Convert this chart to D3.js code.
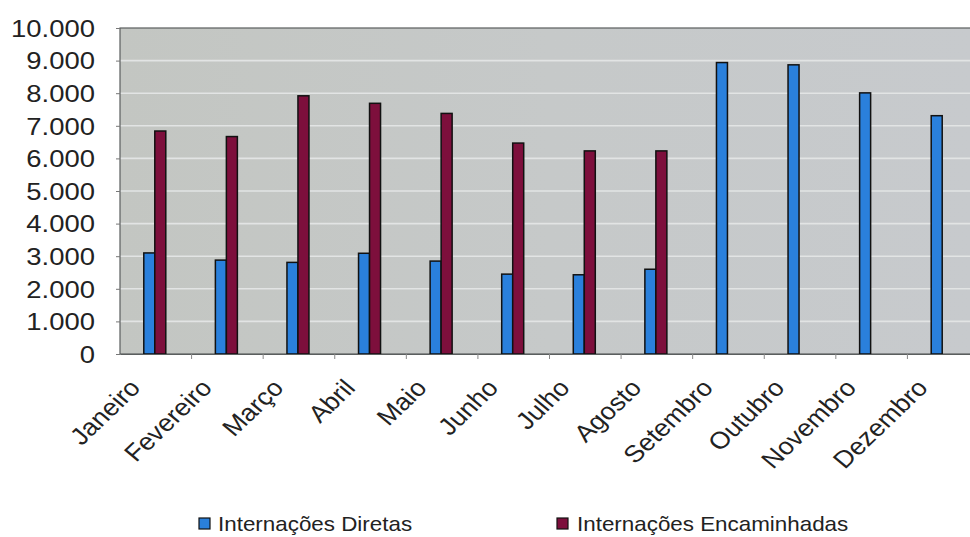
<!DOCTYPE html>
<html>
<head>
<meta charset="utf-8">
<script src="https://cdn.jsdelivr.net/npm/d3@7"></script>
<style>
  html, body { margin: 0; padding: 0; background: #ffffff; }
  svg { display: block; }
  text { font-family: "Liberation Sans", Arial, sans-serif; fill: #222; }
</style>
</head>
<body>
<svg id="chart" width="970" height="537"></svg>
<script>
const months = ["Janeiro","Fevereiro","Março","Abril","Maio","Junho","Julho","Agosto","Setembro","Outubro","Novembro","Dezembro"];
const diretas = [3100, 2880, 2810, 3090, 2850, 2450, 2430, 2600, 8940, 8870, 8010, 7310];
const encaminhadas = [6840, 6670, 7920, 7690, 7380, 6470, 6230, 6230, null, null, null, null];
const seriesNames = ["Internações Diretas", "Internações Encaminhadas"];
const seriesColors = ["#2a80dc", "#7d0f3c"];
const yTicks = [0,1000,2000,3000,4000,5000,6000,7000,8000,9000,10000];

const svg = d3.select("#chart");
const SX = 1.12; // horizontal text stretch as in reference
const plot = { left: 120, right: 979, top: 28, bottom: 354 };

const defs = svg.append("defs");
const grad = defs.append("linearGradient").attr("id","bg").attr("x1","0").attr("x2","1").attr("y1","0").attr("y2","0");
grad.append("stop").attr("offset","0").attr("stop-color","#c3c6c2");
grad.append("stop").attr("offset","0.5").attr("stop-color","#c6c9c9");
grad.append("stop").attr("offset","1").attr("stop-color","#c7cacd");

const x = d3.scaleBand().domain(months).range([plot.left, plot.right]).paddingInner(0).paddingOuter(0);
const y = d3.scaleLinear().domain([0, 10000]).range([plot.bottom, plot.top]);

// plot background
svg.append("rect").attr("x", plot.left).attr("y", plot.top)
  .attr("width", plot.right - plot.left).attr("height", plot.bottom - plot.top)
  .attr("fill", "url(#bg)");

// gridlines
svg.append("g").selectAll("line").data(yTicks.filter(d => d > 0 && d < 10000)).join("line")
  .attr("x1", plot.left).attr("x2", plot.right)
  .attr("y1", d => y(d)).attr("y2", d => y(d))
  .attr("stroke", "#e2e4e4").attr("stroke-width", 1.6);

// plot border
svg.append("rect").attr("x", plot.left).attr("y", plot.top)
  .attr("width", plot.right - plot.left).attr("height", plot.bottom - plot.top)
  .attr("fill", "none").attr("stroke", "#5a5e5e").attr("stroke-width", 1.2);

// bars
const barW = 11;
const data = [diretas, encaminhadas];
data.forEach((vals, si) => {
  svg.append("g").selectAll("rect").data(months.map((m, i) => ({ m, v: vals[i] })).filter(d => d.v != null)).join("rect")
    .attr("x", d => x(d.m) + x.bandwidth() / 2 - barW + si * barW - 1)
    .attr("y", d => y(d.v))
    .attr("width", barW)
    .attr("height", d => y(0) - y(d.v))
    .attr("fill", seriesColors[si])
    .attr("stroke", "#111")
    .attr("stroke-width", 1.5);
});

// y axis ticks + labels
const yAxis = d3.axisLeft(y).tickValues(yTicks).tickSize(4).tickFormat("");
const gy = svg.append("g").attr("transform", `translate(${plot.left},0)`).call(yAxis);
gy.select(".domain").remove();
gy.selectAll("line").attr("stroke", "#777");
svg.append("g").selectAll("text").data(yTicks).join("text")
  .attr("transform", d => `translate(95,${y(d)}) scale(${SX},1)`)
  .attr("text-anchor", "end").attr("dy", "0.36em")
  .style("font-size", "24.5px")
  .text(d => d3.format(",")(d).replace(/,/g, "."));

// x axis ticks
const xAxis = d3.axisBottom(x).tickSize(0).tickFormat("");
const gx = svg.append("g").attr("transform", `translate(0,${plot.bottom})`).call(xAxis);
gx.select(".domain").attr("stroke", "#5a5e5e");
svg.append("g").selectAll("line").data(months.slice(1)).join("line")
  .attr("x1", d => x(d)).attr("x2", d => x(d))
  .attr("y1", plot.bottom).attr("y2", plot.bottom + 5)
  .attr("stroke", "#888");

// month labels
svg.append("g").selectAll("text").data(months).join("text")
  .attr("transform", d => `translate(${x(d) + x.bandwidth()/2 - 14},${plot.bottom + 35}) scale(${SX},1) rotate(-47)`)
  .attr("text-anchor", "end")
  .style("font-size", "24px")
  .text(d => d);

// legend
const legendItems = [
  { name: seriesNames[0], color: seriesColors[0], sx: 199, tx: 218 },
  { name: seriesNames[1], color: seriesColors[1], sx: 557, tx: 577 }
];
const lg = svg.append("g");
lg.selectAll("rect").data(legendItems).join("rect")
  .attr("x", d => d.sx).attr("y", 518).attr("width", 11).attr("height", 11)
  .attr("fill", d => d.color).attr("stroke", "#111").attr("stroke-width", 1.2);
lg.selectAll("text").data(legendItems).join("text")
  .attr("transform", d => `translate(${d.tx},531) scale(${SX},1)`)
  .style("font-size", "20px")
  .text(d => d.name);
</script>
</body>
</html>
